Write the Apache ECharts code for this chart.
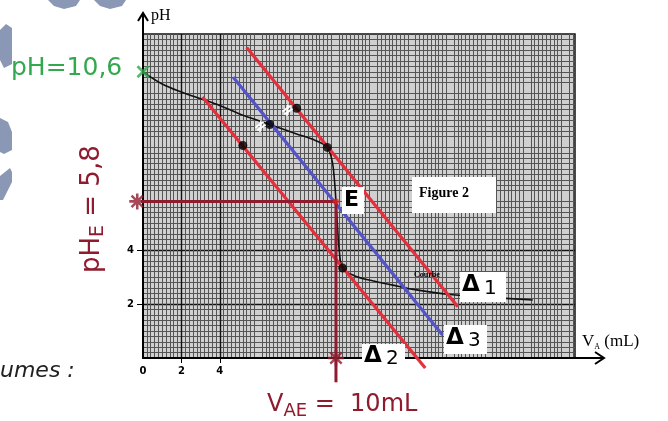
<!DOCTYPE html>
<html><head><meta charset="utf-8">
<script src="https://cdn.jsdelivr.net/npm/echarts@6/dist/echarts.min.js"></script>
<style>html,body{margin:0;padding:0;background:#fff}#c{width:668px;height:421px}</style>
</head><body><div id="c"></div>
<script>
// ---- data ----
const curveVolume = [0, 1, 2, 3, 4, 5, 6, 7, 8, 9, 9.6, 9.85, 9.97, 10.05, 10.12, 10.22, 10.4, 11, 12, 13, 14, 16, 18, 20.3];
const curvePH     = [10.6, 10.15, 9.85, 9.6, 9.35, 9.05, 8.8, 8.55, 8.3, 8.05, 7.8, 7.3, 6.6, 5.8, 5.0, 4.0, 3.33, 3.05, 2.85, 2.7, 2.55, 2.35, 2.25, 2.15];
const delta1 = [[5.4, 11.5], [16.4, 1.9]];
const delta2 = [[3.1, 9.67], [14.7, -0.37]];
const delta3 = [[4.7, 10.4], [15.6, 0.85]];
const tangentPoints = [[5.2, 7.87], [6.6, 8.65], [8.0, 9.25], [9.6, 7.8], [10.4, 3.33]];
const equivVolume = 10.05;
const equivPH = 5.8;
const initialPH = 10.6;
const xTickLabels = [0, 2, 4];
const yTickLabels = [2, 4];

const RED = '#e3303c', BLUE = '#5454c8', DARKRED = '#8e1b2e', GREEN = '#33a84f';
const starPath = 'path://M4.2,0H5.8V10H4.2Z M0,4.2H10V5.8H0Z M0.9,2.0L2.0,0.9L9.1,8.0L8.0,9.1Z M8.0,0.9L9.1,2.0L2.0,9.1L0.9,8.0Z';
const crossPath = 'path://M0,1.5L1.5,0L5,3.5L8.5,0L10,1.5L6.5,5L10,8.5L8.5,10L5,6.5L1.5,10L0,8.5L3.5,5Z';

const chart = echarts.init(document.getElementById('c'), null, {renderer: 'canvas'});
const option = {
  animation: false,
  backgroundColor: '#fff',
  grid: {left: 143, right: 93, top: 34, bottom: 63, show: true, backgroundColor: '#d0d0d0', borderColor: '#111', borderWidth: 1.5},
  xAxis: {
    type: 'value', min: 0, max: 22.5, interval: 2,
    axisLine: {show: true, onZero: false, lineStyle: {color: '#000', width: 2}},
    axisTick: {show: true, customValues: [2, 4], length: 5, inside: false, lineStyle: {color: '#000', width: 1}},
    axisLabel: {customValues: xTickLabels, color: '#000', fontWeight: 'bold', fontSize: 10, fontFamily: 'DejaVu Sans', margin: 8},
    splitLine: {show: true, lineStyle: {color: '#111', width: 1.4}},
    minorTick: {show: false, splitNumber: 10},
    minorSplitLine: {show: true, lineStyle: {color: '#555', width: 1}}
  },
  yAxis: {
    type: 'value', min: 0, max: 12, interval: 2,
    axisLine: {show: true, onZero: false, lineStyle: {color: '#000', width: 2}},
    axisTick: {show: true, customValues: yTickLabels, length: 6, lineStyle: {color: '#000', width: 1}},
    axisLabel: {customValues: yTickLabels, color: '#000', fontWeight: 'bold', fontSize: 10, fontFamily: 'DejaVu Sans', margin: 9},
    splitLine: {show: true, lineStyle: {color: '#111', width: 1.4}},
    minorTick: {show: false, splitNumber: 10},
    minorSplitLine: {show: true, lineStyle: {color: '#555', width: 1}}
  },
  series: [
    {type: 'line', name: 'courbe', data: curveVolume.map((v, i) => [v, curvePH[i]]), smooth: 0.35,
     showSymbol: false, lineStyle: {color: '#111', width: 1.6}, z: 3},
    {type: 'line', data: delta1, showSymbol: false, clip: false, lineStyle: {color: RED, width: 3.2}, z: 4},
    {type: 'line', data: delta2, showSymbol: false, clip: false, lineStyle: {color: RED, width: 3.2}, z: 4},
    {type: 'line', data: delta3, showSymbol: false, clip: false, lineStyle: {color: BLUE, width: 3.2}, z: 4},
    {type: 'line', data: [[-0.3, equivPH], [equivVolume, equivPH]], showSymbol: false, clip: false, lineStyle: {color: DARKRED, width: 3}, z: 5},
    {type: 'line', data: [[equivVolume, equivPH], [equivVolume, -0.9]], showSymbol: false, clip: false, lineStyle: {color: DARKRED, width: 3}, z: 5},
    {type: 'scatter', data: [[-0.3, equivPH], [equivVolume, 0]], symbol: starPath, symbolSize: 16, clip: false, itemStyle: {color: DARKRED}, z: 6},
    {type: 'scatter', data: [[0, initialPH]], symbol: crossPath, symbolSize: 13, clip: false, itemStyle: {color: GREEN}, z: 6},
    {type: 'scatter', data: tangentPoints, symbol: 'circle', symbolSize: 9, itemStyle: {color: '#000'}, z: 7},
    {type: 'scatter', data: [[equivVolume, equivPH]], symbol: 'circle', symbolSize: 6, itemStyle: {color: '#e02020'}, z: 7}
  ]
};
chart.setOption(option);

const p = (x, y) => chart.convertToPixel({gridIndex: 0}, [x, y]);
const xEnd = p(22.5, 0), yEnd = p(0, 12);
const deco = '#8a98b6';
const lbl = (x, y, text, size, opts) => ({type: 'text', x, y, z: 50,
  style: Object.assign({text, fontFamily: 'DejaVu Sans', fontSize: size, fill: '#000'}, opts || {})});
const box = (x, y, w, h) => ({type: 'rect', shape: {x, y, width: w, height: h}, style: {fill: '#fff'}, z: 45});

chart.setOption({graphic: [
  // decorative background shapes
  {type: 'polygon', shape: {points: [[48, 0], [80, 0], [76, 6], [64, 9], [54, 6]]}, style: {fill: deco}, z: 1},
  {type: 'polygon', shape: {points: [[94, 0], [126, 0], [122, 6], [110, 9], [100, 6]]}, style: {fill: deco}, z: 1},
  {type: 'polygon', shape: {points: [[0, 30], [6, 24], [12, 28], [12, 64], [4, 68], [0, 60]]}, style: {fill: deco}, z: 1},
  {type: 'polygon', shape: {points: [[0, 118], [8, 122], [12, 132], [12, 150], [4, 154], [0, 152]]}, style: {fill: deco}, z: 1},
  {type: 'polygon', shape: {points: [[0, 176], [10, 168], [12, 172], [12, 182], [3, 200], [0, 200]]}, style: {fill: deco}, z: 1},
  // axis extensions with arrows
  {type: 'line', shape: {x1: xEnd[0], y1: xEnd[1], x2: xEnd[0] + 28, y2: xEnd[1]}, style: {stroke: '#000', lineWidth: 2}, z: 40},
  {type: 'polyline', shape: {points: [[xEnd[0] + 20, xEnd[1] - 6], [xEnd[0] + 29, xEnd[1]], [xEnd[0] + 20, xEnd[1] + 6]]}, style: {stroke: '#000', lineWidth: 2, fill: null}, z: 40},
  {type: 'line', shape: {x1: yEnd[0], y1: yEnd[1], x2: yEnd[0], y2: yEnd[1] - 20}, style: {stroke: '#000', lineWidth: 2}, z: 40},
  {type: 'polyline', shape: {points: [[yEnd[0] - 5, yEnd[1] - 13], [yEnd[0], yEnd[1] - 21], [yEnd[0] + 5, yEnd[1] - 13]]}, style: {stroke: '#000', lineWidth: 2, fill: null}, z: 40},
  // axis titles
  lbl(yEnd[0] + 8, yEnd[1] - 26, 'pH', 16, {fontFamily: 'Liberation Serif'}),
  {type: 'text', x: 582, y: 333, z: 50, style: {text: '{a|V}{s|A}{a| (mL)}', rich: {a: {fontFamily: 'Liberation Serif', fontSize: 17, fill: '#000'}, s: {fontFamily: 'Liberation Serif', fontSize: 8, fill: '#000', padding: [10, 0, 0, 0]}}}},
  // annotations
  lbl(11, 56, 'pH=10,6', 25, {fill: GREEN}),
  {type: 'text', x: 76, y: 273, rotation: Math.PI / 2, z: 50,
   style: {text: '{a|pH}{s|E}{a| = 5,8}', rich: {a: {fontFamily: 'DejaVu Sans', fontSize: 26, fill: DARKRED}, s: {fontFamily: 'DejaVu Sans', fontSize: 19, fill: DARKRED, padding: [13, 0, 0, 0]}}}},
  {type: 'text', x: 267, y: 390, z: 50,
   style: {text: '{a|V}{s|AE}{a| =  10mL}', rich: {a: {fontFamily: 'DejaVu Sans', fontSize: 24, fill: DARKRED}, s: {fontFamily: 'DejaVu Sans', fontSize: 18, fill: DARKRED, padding: [12, 0, 0, 0]}}}},
  lbl(0, 360, 'umes :', 22, {fontStyle: 'italic', fill: '#222'}),
  box(342, 187, 22, 27), lbl(344, 189, 'E', 22, {fontWeight: 'bold'}),
  box(412, 177, 84, 36), lbl(419, 186, 'Figure 2', 14, {fontFamily: 'Liberation Serif', fontWeight: 'bold'}),
  box(460, 272, 46, 30), lbl(462, 274, 'Δ', 23, {fontWeight: 'bold'}), lbl(484, 279, '1', 20),
  box(444, 325, 43, 29), lbl(446, 327, 'Δ', 23, {fontWeight: 'bold'}), lbl(468, 331, '3', 20),
  box(362, 344, 43, 25), lbl(364, 345, 'Δ', 23, {fontWeight: 'bold'}), lbl(386, 349, '2', 20),
  lbl(414, 271, 'Courbe', 8, {fontFamily: 'Liberation Serif', fontWeight: 'bold'}),
  // white equal-distance marks
  {type: 'text', x: 251, y: 124, rotation: 0.6, z: 50, style: {text: '≠', fontFamily: 'DejaVu Sans', fontWeight: 'bold', fontSize: 16, fill: '#fff'}},
  {type: 'text', x: 278, y: 108, rotation: 0.6, z: 50, style: {text: '≠', fontFamily: 'DejaVu Sans', fontWeight: 'bold', fontSize: 16, fill: '#fff'}}
]});
</script>
</body></html>
